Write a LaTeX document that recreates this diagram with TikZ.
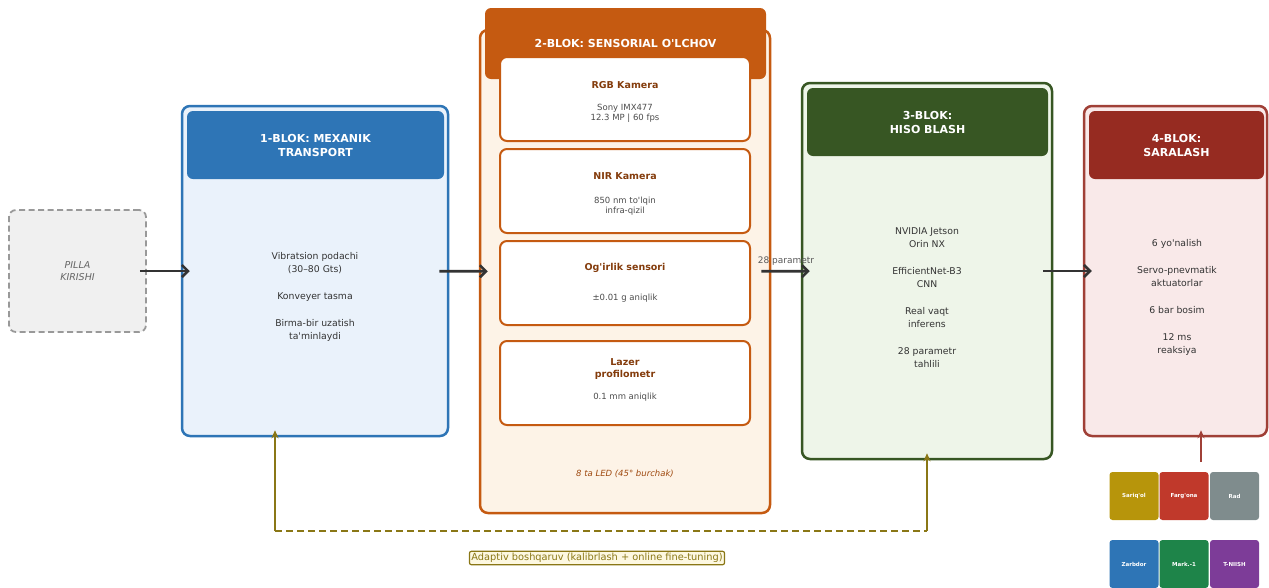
\documentclass[tikz,border=0pt]{standalone}
\usepackage{fontspec}
\setmainfont{DejaVu Sans}[Ligatures=TeXOff]
\usetikzlibrary{arrows.meta}

\definecolor{inkgray}{HTML}{333333}
\definecolor{mechblue}{HTML}{2E75B6}
\definecolor{mechbg}{HTML}{EAF2FB}
\definecolor{sensorange}{HTML}{C55A11}
\definecolor{sensbg}{HTML}{FDF3E7}
\definecolor{sensbrown}{HTML}{843C0C}
\definecolor{aigreen}{HTML}{375623}
\definecolor{aibg}{HTML}{EEF5E9}
\definecolor{sortred}{HTML}{962B21}
\definecolor{sortbg}{HTML}{F9E9E9}
\definecolor{fbolive}{HTML}{8A7716}
\definecolor{fbbg}{HTML}{FDF8E1}
\definecolor{chipgold}{HTML}{B7950B}
\definecolor{chipred}{HTML}{C0392B}
\definecolor{chipgray}{HTML}{7F8C8D}
\definecolor{chipblue}{HTML}{2E75B6}
\definecolor{chipgreen}{HTML}{1E8449}
\definecolor{chippurple}{HTML}{7D3C98}

\tikzset{
  block/.style={draw=#1, line width=2.5pt, rounded corners=8pt, inner sep=0pt},
  head/.style={fill=#1, rounded corners=6pt, text=white, align=center,
    font=\fontsize{11}{14}\selectfont\bfseries, inner sep=0pt},
  body/.style={align=center, text=inkgray, font=\fontsize{9.3}{13}\selectfont},
  sensbox/.style={draw=sensorange, fill=white, line width=2pt, rounded corners=7pt,
    minimum width=250pt, minimum height=84pt, inner sep=0pt},
  senstitle/.style={align=center, text=sensbrown, font=\fontsize{9.5}{12}\selectfont\bfseries},
  sensinfo/.style={align=center, text=black!70, font=\fontsize{8.5}{10}\selectfont},
  flow/.style={draw=inkgray, line width=2.6pt, -{Straight Barb[length=6pt,width=12pt]},
    shorten <=-10pt, shorten >=-9pt},
  fbline/.style={draw=fbolive, line width=2.2pt},
  fbtip/.style={-{Stealth[length=8pt,width=7pt]}, shorten >=-7pt},
  chip/.style={fill=#1, rounded corners=3pt, minimum width=49pt, minimum height=48pt,
    text=white, font=\fontsize{5.5}{7}\selectfont\bfseries, inner sep=0pt},
}

\begin{document}
\begin{tikzpicture}[x=1pt, y=-1pt]
\clip (0,0) rectangle (1269,587);

% input
\node[draw=black!40, dash pattern=on 6pt off 3.5pt, line width=1.8pt, fill=black!6, rounded corners=7pt,
  minimum width=137pt, minimum height=122pt, align=center, text=black!60,
  font=\fontsize{9.5}{12}\selectfont\itshape] (inp) at (77.5,271) {PILLA\\KIRISHI};

% 1-blok
\node[block=mechblue, fill=mechbg, minimum width=266pt, minimum height=330pt] (blk1) at (315,271) {};
\node[head=mechblue, minimum width=257pt, minimum height=68pt] (hd1) at (315.5,145) {1-BLOK: MEXANIK\\TRANSPORT};
\node[body] (tx1) at (315,297) {Vibratsion podachi\\(30–80 Gts)\\[14pt]Konveyer tasma\\[14pt]Birma-bir uzatish\\ta'minlaydi};

% 2-blok
\node[block=sensorange, fill=sensbg, minimum width=290pt, minimum height=483pt] (blk2) at (625,271.5) {};
\node[head=sensorange, minimum width=281pt, minimum height=71pt] (hd2) at (625.5,43.5) {2-BLOK: SENSORIAL O'LCHOV};

\node[sensbox] (s1) at (625,99) {};
\node[senstitle] at (625,85) {RGB Kamera};
\node[sensinfo] at (625,113) {Sony IMX477\\12.3 MP | 60 fps};

\node[sensbox] (s2) at (625,191) {};
\node[senstitle] at (625,176) {NIR Kamera};
\node[sensinfo] at (625,206) {850 nm to'lqin\\infra-qizil};

\node[sensbox] (s3) at (625,283) {};
\node[senstitle] at (625,268) {Og'irlik sensori};
\node[sensinfo] at (625,298) {±0.01 g aniqlik};

\node[sensbox] (s4) at (625,383) {};
\node[senstitle] at (625,369) {Lazer\\profilometr};
\node[sensinfo] at (625,397) {0.1 mm aniqlik};

\node[text=sensorange!80!black, font=\fontsize{8.5}{10}\selectfont\itshape] (led) at (625,474) {8 ta LED (45° burchak)};

% 3-blok
\node[block=aigreen, fill=aibg, minimum width=250pt, minimum height=376pt] (blk3) at (927,271) {};
\node[head=aigreen, minimum width=241pt, minimum height=68pt] (hd3) at (927.5,122) {3-BLOK:\\HISO BLASH};
\node[body] (tx3) at (927,297.5) {NVIDIA Jetson\\Orin NX\\[14pt]EfficientNet-B3\\CNN\\[14pt]Real vaqt\\inferens\\[14pt]28 parametr\\tahlili};

% 4-blok
\node[block=sortred!90!white, fill=sortbg, minimum width=183pt, minimum height=330pt] (blk4) at (1175.5,271) {};
\node[head=sortred, minimum width=175pt, minimum height=68pt] (hd4) at (1176.5,145) {4-BLOK:\\SARALASH};
\node[body] (tx4) at (1177,297.5) {6 yo'nalish\\[14pt]Servo-pnevmatik\\aktuatorlar\\[14pt]6 bar bosim\\[14pt]12 ms\\reaksiya};

% oqim
\draw[flow, shorten <=-7pt] (inp) -- (blk1);
\draw[flow] (blk1) -- (blk2);
\draw[flow] (blk2) -- node[above=1pt, text=black!65, font=\fontsize{9}{11}\selectfont] (par) {28 parametr} (blk3);
\draw[flow] (blk3) -- (blk4);

% navlar
\node[chip=chipgold] (c1) at (1134,496) {Sariq'ol};
\node[chip=chipred] (c2) at (1184,496) {Farg'ona};
\node[chip=chipgray] (c3) at (1234.5,496) {Rad};
\node[chip=chipblue] (c4) at (1134,564) {Zarbdor};
\node[chip=chipgreen] (c5) at (1184,564) {Mark.-1};
\node[chip=chippurple] (c6) at (1234.5,564) {T-NIISH};

\coordinate (sortin) at (1201,462);
\draw[draw=sortred!90!white, line width=2.2pt, -{Stealth[length=8pt,width=7pt]}, shorten >=-7pt] (sortin) -- (sortin |- blk4.south);

% teskari aloqa
\coordinate (fbA) at (275,531);
\coordinate (fbB) at (927,531);
\draw[fbline, dash pattern=on 7pt off 4pt] (fbA) -- (fbB);
\draw[fbline, fbtip] (fbA) -- (fbA |- blk1.south);
\draw[fbline, fbtip] (fbB) -- (blk3.south);
\node[draw=fbolive, fill=fbbg, line width=1.2pt, rounded corners=2pt, inner sep=2pt,
  text=fbolive, font=\fontsize{9.8}{11}\selectfont] (fbtxt) at (597,558) {Adaptiv boshqaruv (kalibrlash + online fine-tuning)};
\end{tikzpicture}
\end{document}
